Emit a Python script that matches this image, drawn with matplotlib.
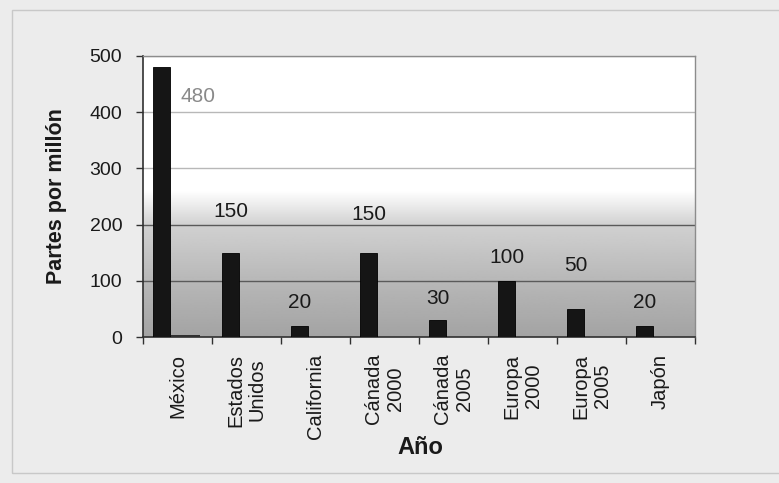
import numpy as np
import matplotlib
matplotlib.use("Agg")
import matplotlib.pyplot as plt
from matplotlib.patches import Rectangle

plt.rcParams["font.family"] = ["Liberation Sans", "DejaVu Sans"]

# Data
regiones = ["México", "Estados\nUnidos", "California", "Cánada\n2000", "Cánada\n2005",
            "Europa\n2000", "Europa\n2005", "Japón"]
ppm = [480, 150, 20, 150, 30, 100, 50, 20]
ppm_extra = [3, 0, 0, 0, 0, 0, 0, 0]  # thin sliver beside México
y_ticks = [0, 100, 200, 300, 400, 500]

fig = plt.figure(figsize=(7.79, 4.83), dpi=100, facecolor="#ececec")
ax = fig.add_axes([143 / 779, 1 - 337 / 483, (695 - 143) / 779, (337 - 56) / 483])

# outer frame of the scanned page
fig.patches.append(Rectangle((12 / 779, 0.02), 0.99, 1 - 10 / 483 - 0.02,
                             transform=fig.transFigure, fill=False,
                             edgecolor="#c8c8c8", linewidth=1.0))

n = len(regiones)
x = np.arange(n)
ax.set_xlim(-0.5, n - 0.5)
ax.set_ylim(0, 500)

# vertical gradient background: white on top, grey towards zero
yy = np.linspace(0, 500, 400)
shade = np.interp(yy, [0, 100, 200, 260, 500], [0.64, 0.72, 0.82, 1.0, 1.0])
ax.imshow(shade[:, None], extent=(-0.5, n - 0.5, 0, 500), origin="lower",
          cmap="gray", vmin=0, vmax=1, aspect="auto", zorder=0)

# grid lines
for v in y_ticks[1:]:
    col = "#5a5a5a" if v <= 200 else "#b8b8b8"
    ax.axhline(v, color=col, linewidth=1.0, zorder=1)

ax.bar(x - 0.23, ppm, width=0.25, color="#151515", edgecolor="#000000",
       linewidth=0.6, zorder=3)
ax.bar(x + 0.12, ppm_extra, width=0.42, color="#303030", linewidth=0, zorder=3)

# value labels (offsets in pixels above bar tops, as placed in the reference)
dx_px = [36, 0, 0, 0, 0, 0, 0, 0]
dy_px = [-29, 41, 23, 38, 22, 23, 43, 23]
for i, v in enumerate(ppm):
    ax.annotate(str(v), (x[i] - 0.23, v), xytext=(dx_px[i] * 0.72, dy_px[i] * 0.72),
                textcoords="offset points", ha="center", va="center",
                fontsize=15, color="#8a8a8a" if i == 0 else "#1a1a1a", zorder=5)

# axes styling
for side in ["top", "right"]:
    ax.spines[side].set_color("#8c8c8c")
    ax.spines[side].set_linewidth(1.0)
for side in ["left", "bottom"]:
    ax.spines[side].set_color("#303030")
    ax.spines[side].set_linewidth(1.2)

ax.set_yticks(y_ticks)
ax.set_yticklabels([str(v) for v in y_ticks], fontsize=14, color="#1a1a1a")
ax.tick_params(axis="y", direction="out", length=5, width=1, color="#303030", pad=10)

ax.set_xticks(np.arange(-0.5, n, 1.0))
ax.set_xticklabels([])
ax.tick_params(axis="x", direction="out", length=5, width=1, color="#303030")
for i, lab in enumerate(regiones):
    ax.annotate(lab, (x[i], 0), xycoords="data", xytext=(0, -12),
                textcoords="offset points", rotation=90, ha="center", va="top",
                multialignment="center", fontsize=14.5, color="#1a1a1a",
                linespacing=1.15)

ax.set_ylabel("Partes por millón", fontsize=15.5, fontweight="bold",
              color="#1a1a1a")
ax.yaxis.set_label_coords(-(143 - 67) / 552, 0.5)
fig.text(420 / 779, 1 - 447 / 483, "Año", ha="center", va="center",
         fontsize=17, fontweight="bold", color="#1a1a1a")

fig.savefig("out.png", dpi=100, facecolor=fig.get_facecolor())
